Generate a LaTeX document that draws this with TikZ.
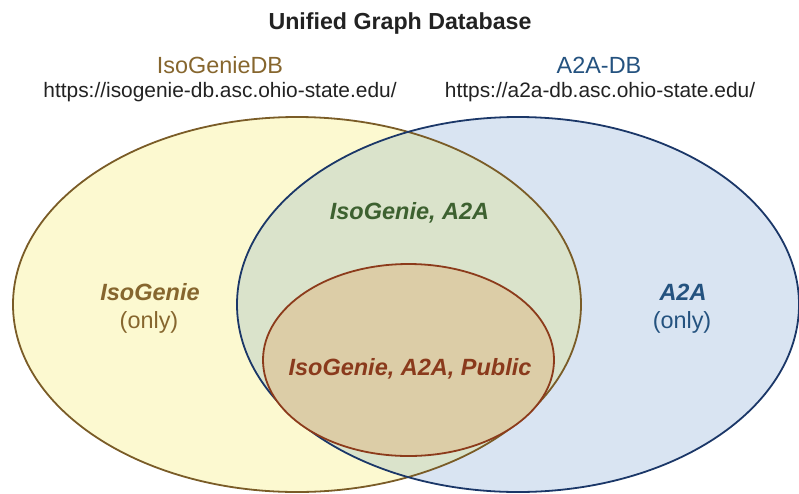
\documentclass[tikz,border=0pt]{standalone}
\usepackage{fontspec}
\setmainfont{Liberation Sans}
\definecolor{yfill}{HTML}{FCF9D0}
\definecolor{bfill}{HTML}{D9E4F2}
\definecolor{gfill}{HTML}{DAE3CB}
\definecolor{tfill}{HTML}{DCCDA7}
\definecolor{ystroke}{HTML}{7A5C27}
\definecolor{bstroke}{HTML}{1B3768}
\definecolor{tstroke}{HTML}{8C3B1B}
\definecolor{ytext}{HTML}{86662E}
\definecolor{btext}{HTML}{24527F}
\definecolor{gtext}{HTML}{3D6130}
\definecolor{ttext}{HTML}{8A3A1C}
\definecolor{dtext}{HTML}{222222}
\tikzset{
  lbl/.style={anchor=base,inner sep=0pt,font=\fontsize{23.4}{28}\selectfont},
  url/.style={anchor=base,inner sep=0pt,font=\fontsize{20.9}{25}\selectfont,text=dtext},
  setlbl/.style={anchor=base,inner sep=0pt,font=\fontsize{23.5}{28}\selectfont\bfseries\itshape},
  edge/.style={line width=1.8pt},
}
\begin{document}
\begin{tikzpicture}[x=1pt,y=-1pt]
\useasboundingbox (0,0) rectangle (799,493);
% fills
\fill[yfill] (297,304.5) ellipse [x radius=284,y radius=187.5];
\fill[bfill] (518,304.5) ellipse [x radius=281,y radius=187.5];
\begin{scope}
  \clip (297,304.5) ellipse [x radius=284,y radius=187.5];
  \fill[gfill] (518,304.5) ellipse [x radius=281,y radius=187.5];
\end{scope}
% strokes
\draw[ystroke,edge] (297,304.5) ellipse [x radius=284,y radius=187.5];
\draw[bstroke,edge] (518,304.5) ellipse [x radius=281,y radius=187.5];
\draw[tstroke,fill=tfill,edge] (408.5,360) ellipse [x radius=145.5,y radius=96];
% texts
\node[anchor=base,inner sep=0pt,font=\fontsize{23.2}{28}\selectfont\bfseries,text=dtext] (title) at (400,29) {Unified Graph Database};
\node[lbl,text=ytext] (isodb) at (220,73) {IsoGenieDB};
\node[url] (isourl) at (220,97) {https://isogenie-db.asc.ohio-state.edu/};
\node[lbl,text=btext] (a2adb) at (599,73) {A2A-DB};
\node[url] (a2aurl) at (600,97) {https://a2a-db.asc.ohio-state.edu/};
\node[setlbl,text=ytext] (iso) at (150,300) {IsoGenie};
\node[lbl,text=ytext] (isoonly) at (149,328) {(only)};
\node[setlbl,text=btext] (a2a) at (683,300) {A2A};
\node[lbl,text=btext] (a2aonly) at (682,328) {(only)};
\node[setlbl,text=gtext] (both) at (409.5,219) {IsoGenie, A2A};
\node[setlbl,text=ttext] (pub) at (410,375) {IsoGenie, A2A, Public};
\end{tikzpicture}
\end{document}
